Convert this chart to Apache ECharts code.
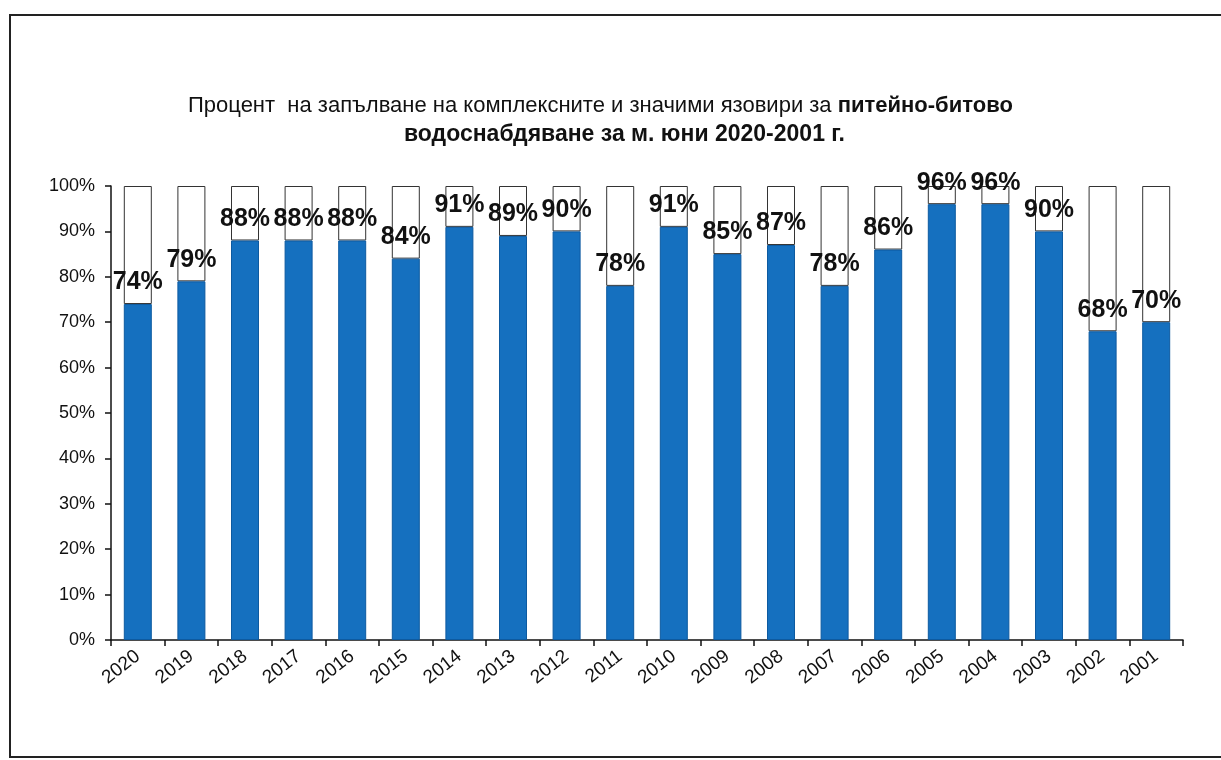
<!DOCTYPE html>
<html>
<head>
<meta charset="utf-8">
<script src="https://cdn.jsdelivr.net/npm/echarts@6/dist/echarts.min.js"></script>
<style>
html,body{margin:0;padding:0;background:#fff;}
#c{width:1221px;height:760px;}
</style>
</head>
<body>
<div id="c"></div>
<script>
const years = ['2020','2019','2018','2017','2016','2015','2014','2013','2012','2011','2010','2009','2008','2007','2006','2005','2004','2003','2002','2001'];
const fillPct = [74,79,88,88,88,84,91,89,90,78,91,85,87,78,86,96,96,90,68,70];
const yTicks = [0,10,20,30,40,50,60,70,80,90,100];
const titleLine1a = 'Процент  на запълване на комплексните и значими язовири за ';
const titleLine1b = 'питейно-битово';
const titleLine2 = 'водоснабдяване за м. юни 2020-2001 г.';

const remainder = fillPct.map(v => 100 - v);
const FONT = '"Liberation Sans", Arial, sans-serif';

const chart = echarts.init(document.getElementById('c'), null, {renderer:'canvas'});
chart.setOption({
  backgroundColor: '#fff',
  animation: false,
  title: [
    {
      text: '{n|' + titleLine1a + '}{b|' + titleLine1b + '}',
      left: 183, top: 90,
      textStyle: {
        fontWeight: 'normal',
        rich: {
          n: {fontFamily: FONT, fontSize: 22, fontWeight: 'normal', color: '#111'},
          b: {fontFamily: FONT, fontSize: 22, fontWeight: 'bold', color: '#111'}
        }
      }
    },
    {
      text: titleLine2,
      left: 399, top: 118,
      textStyle: {fontFamily: FONT, fontSize: 23, fontWeight: 'bold', color: '#111'}
    }
  ],
  graphic: [
    {
      type: 'rect', silent: true,
      shape: {x: 10, y: 15, width: 1220, height: 742},
      style: {fill: null, stroke: '#222', lineWidth: 2}
    }
  ],
  grid: {left: 111, right: 38, top: 186, bottom: 120, containLabel: false},
  xAxis: {
    type: 'category',
    data: years,
    axisLine: {lineStyle: {color: '#111', width: 1.5}},
    axisTick: {show: true, length: 6, lineStyle: {color: '#111', width: 1.5}},
    axisLabel: {rotate: 38, fontFamily: FONT, fontSize: 19, color: '#111', margin: 14, interval: 0}
  },
  yAxis: {
    type: 'value',
    min: 0, max: 100, interval: 10,
    axisLine: {show: true, lineStyle: {color: '#111', width: 1.5}},
    axisTick: {show: true, length: 6, lineStyle: {color: '#111', width: 1.5}},
    splitLine: {show: false},
    axisLabel: {
      fontFamily: FONT, fontSize: 18, color: '#111', margin: 16,
      formatter: v => (yTicks.indexOf(v) >= 0 ? v + '%' : '')
    }
  },
  series: [
    {
      type: 'bar', stack: 's', data: fillPct, barWidth: 28,
      itemStyle: {color: '#1570bf', borderColor: '#0d5aa0', borderWidth: 1},
      label: {
        show: true, position: 'top', distance: 9,
        fontFamily: FONT, fontSize: 25, fontWeight: 'bold', color: '#111',
        formatter: p => p.value + '%'
      },
      z: 3
    },
    {
      type: 'bar', stack: 's', data: remainder, barWidth: 28,
      itemStyle: {color: '#fff', borderColor: '#333', borderWidth: 1},
      z: 2
    }
  ]
});
</script>
</body>
</html>
